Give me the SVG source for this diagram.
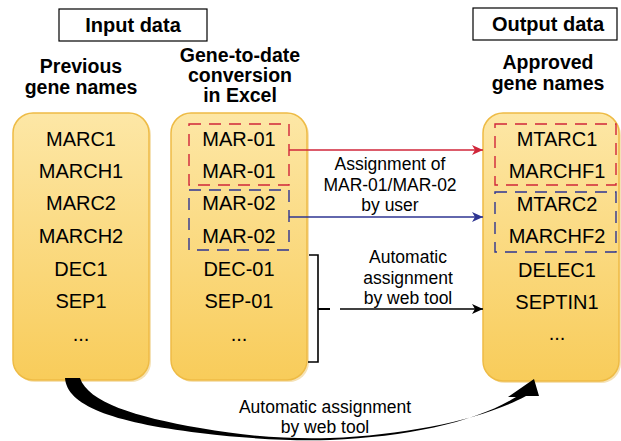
<svg xmlns="http://www.w3.org/2000/svg" width="621" height="441" viewBox="0 0 621 441">
  <defs>
    <linearGradient id="gold" x1="0" y1="0" x2="0" y2="1">
      <stop offset="0" stop-color="#fde7a6"/>
      <stop offset="1" stop-color="#f8cc5a"/>
    </linearGradient>
    <marker id="headRed" markerWidth="12" markerHeight="10" refX="11" refY="5" orient="auto" markerUnits="userSpaceOnUse">
      <path d="M0,0 L11,5 L0,10 L3,5 Z" fill="#d0263a"/>
    </marker>
    <marker id="headBlue" markerWidth="12" markerHeight="10" refX="11" refY="5" orient="auto" markerUnits="userSpaceOnUse">
      <path d="M0,0 L11,5 L0,10 L3,5 Z" fill="#2e3592"/>
    </marker>
    <marker id="headBlack" markerWidth="12" markerHeight="10" refX="11" refY="5" orient="auto" markerUnits="userSpaceOnUse">
      <path d="M0,0 L11,5 L0,10 L3,5 Z" fill="#000"/>
    </marker>
  </defs>
  <style>
    .hdr { font-family: "Liberation Sans", Arial, sans-serif; font-weight: bold; font-size: 19.5px; fill: #000; text-anchor: middle; }
    .title { font-family: "Liberation Sans", Arial, sans-serif; font-weight: bold; font-size: 20px; fill: #000; text-anchor: middle; }
    .cell { font-family: "Liberation Sans", Arial, sans-serif; font-size: 20px; fill: #000; text-anchor: middle; }
    .lbl { font-family: "Liberation Sans", Arial, sans-serif; font-size: 17.5px; fill: #000; text-anchor: middle; }
    .frame { fill: #fff; stroke: #000; stroke-width: 1.2; }
    .col { fill: url(#gold); stroke: #eebb45; stroke-width: 1.5; }
    .shade { fill: #e2ad2e; opacity: 0.35; }
    .dashRed { fill: none; stroke: #d0263a; stroke-width: 1.4; stroke-dasharray: 12 8; }
    .dashBlue { fill: none; stroke: #2e3592; stroke-width: 1.4; stroke-dasharray: 12 8; }
  </style>

  <rect width="621" height="441" fill="#fff"/>

  <!-- section titles -->
  <g id="input-title">
    <rect class="frame" x="59" y="9" width="148" height="32"/>
    <text class="title" x="133" y="32">Input data</text>
  </g>
  <g id="output-title">
    <rect class="frame" x="473" y="8" width="144" height="32"/>
    <text class="title" x="548" y="31">Output data</text>
  </g>

  <!-- column headings -->
  <g id="previous-heading">
    <text class="hdr" x="81" y="73">Previous</text>
    <text class="hdr" x="81" y="94">gene names</text>
  </g>
  <g id="excel-heading">
    <text class="hdr" x="240" y="62">Gene-to-date</text>
    <text class="hdr" x="240" y="82">conversion</text>
    <text class="hdr" x="240" y="102">in Excel</text>
  </g>
  <g id="approved-heading">
    <text class="hdr" x="548" y="69">Approved</text>
    <text class="hdr" x="548" y="90">gene names</text>
  </g>

  <!-- previous gene names -->
  <g id="previous-names">
    <rect class="shade" x="15" y="115" width="136" height="267" rx="20"/>
    <rect class="col" x="13" y="113" width="136" height="267" rx="20"/>
    <text class="cell" x="81" y="146">MARC1</text>
    <text class="cell" x="81" y="178">MARCH1</text>
    <text class="cell" x="81" y="210">MARC2</text>
    <text class="cell" x="81" y="243">MARCH2</text>
    <text class="cell" x="81" y="276">DEC1</text>
    <text class="cell" x="81" y="308">SEP1</text>
    <text class="cell" x="81" y="341">...</text>
  </g>

  <!-- Excel-converted names -->
  <g id="excel-names">
    <rect class="shade" x="173" y="115" width="136" height="267" rx="20"/>
    <rect class="col" x="171" y="113" width="136" height="267" rx="20"/>
    <rect class="dashRed" x="189" y="124" width="100" height="61"/>
    <rect class="dashBlue" x="189" y="190" width="100" height="60"/>
    <text class="cell" x="239" y="146">MAR-01</text>
    <text class="cell" x="239" y="178">MAR-01</text>
    <text class="cell" x="239" y="210">MAR-02</text>
    <text class="cell" x="239" y="243">MAR-02</text>
    <text class="cell" x="239" y="276">DEC-01</text>
    <text class="cell" x="239" y="308">SEP-01</text>
    <text class="cell" x="239" y="341">...</text>
  </g>

  <!-- approved gene names -->
  <g id="approved-names">
    <rect class="shade" x="485" y="115" width="136" height="268" rx="20"/>
    <rect class="col" x="483" y="113" width="136" height="268" rx="20"/>
    <rect class="dashRed" x="495" y="124" width="121" height="61"/>
    <rect class="dashBlue" x="495" y="192" width="121" height="60"/>
    <text class="cell" x="557" y="146">MTARC1</text>
    <text class="cell" x="557" y="178">MARCHF1</text>
    <text class="cell" x="557" y="211">MTARC2</text>
    <text class="cell" x="557" y="243">MARCHF2</text>
    <text class="cell" x="557" y="277">DELEC1</text>
    <text class="cell" x="557" y="309">SEPTIN1</text>
    <text class="cell" x="557" y="340">...</text>
  </g>

  <!-- connectors -->
  <g id="connectors">
    <line x1="289" y1="150" x2="483" y2="150" stroke="#d0263a" stroke-width="1.4" marker-end="url(#headRed)"/>
    <line x1="289" y1="217" x2="483" y2="217" stroke="#2e3592" stroke-width="1.4" marker-end="url(#headBlue)"/>
    <text class="lbl" x="390" y="170">Assignment of</text>
    <text class="lbl" x="390" y="191">MAR-01/MAR-02</text>
    <text class="lbl" x="390" y="211">by user</text>

    <path d="M309 255 H318 V362 H308" fill="none" stroke="#000" stroke-width="1.6"/>
    <line x1="318" y1="309" x2="330" y2="309" stroke="#000" stroke-width="2"/>
    <line x1="340" y1="309" x2="483" y2="309" stroke="#000" stroke-width="1.4" marker-end="url(#headBlack)"/>
    <text class="lbl" x="408" y="263">Automatic</text>
    <text class="lbl" x="408" y="284">assignment</text>
    <text class="lbl" x="408" y="304">by web tool</text>

    <!-- tapered sweep under the columns -->
    <path d="M65 378 C67 405 110 422 200 433 C250 439 290 441 330 440 C410 437 478 421 516 397 L508 397 L534 379 L539 396 L526 396 C486 418 410 435 330 438 C290 439 250 437 200 428 C135 417 88 402 80 378 Z" fill="#000"/>
    <text class="lbl" x="325" y="413">Automatic assignment</text>
    <text class="lbl" x="325" y="433">by web tool</text>
  </g>
</svg>
